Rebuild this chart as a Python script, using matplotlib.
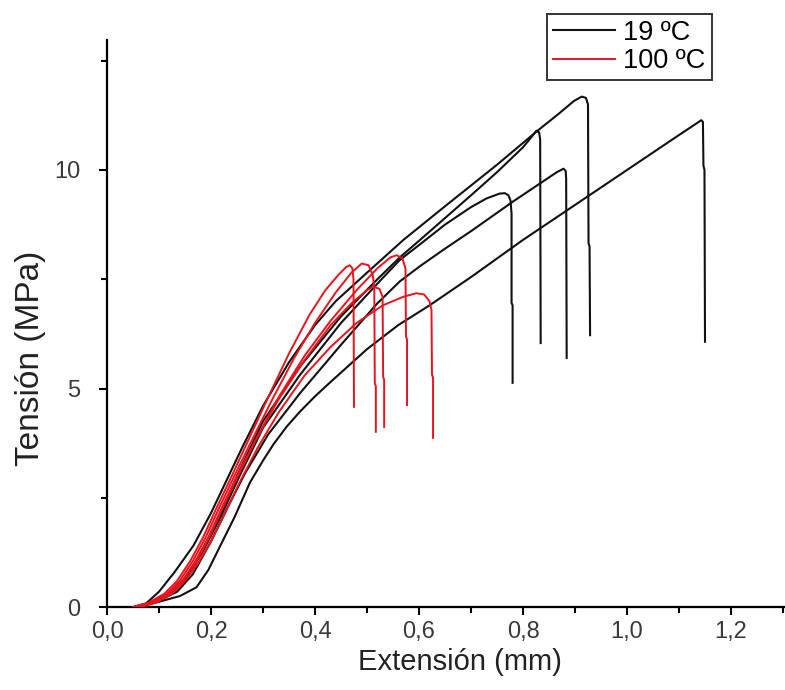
import matplotlib
matplotlib.use('Agg')
import matplotlib.pyplot as plt
from matplotlib.ticker import MultipleLocator, FuncFormatter

plt.rcParams['font.family'] = ['Liberation Sans', 'DejaVu Sans']

# 19 ºC specimens (extension mm, stress MPa)
a_x = [0.05, 0.075, 0.10, 0.13, 0.166, 0.20, 0.23, 0.26, 0.30, 0.35, 0.40, 0.44, 0.50, 0.57,
       0.65, 0.75, 0.826, 0.87, 0.898, 0.913, 0.921, 0.925, 0.926, 0.928, 0.929]
a_y = [0.0, 0.08, 0.35, 0.8, 1.4, 2.15, 2.9, 3.65, 4.6, 5.6, 6.45, 7.0, 7.65, 8.4,
       9.17, 10.12, 10.88, 11.3, 11.58, 11.68, 11.65, 11.5, 8.33, 8.25, 6.22]

b_x = [0.055, 0.09, 0.12, 0.15, 0.18, 0.21, 0.25, 0.30, 0.371, 0.45, 0.52, 0.563, 0.602,
       0.65, 0.70, 0.75, 0.80, 0.818, 0.826, 0.831, 0.833, 0.834]
b_y = [0.0, 0.12, 0.3, 0.65, 1.2, 1.9, 3.0, 4.25, 5.5, 6.65, 7.5, 8.0, 8.4,
       8.9, 9.42, 9.95, 10.52, 10.78, 10.9, 10.86, 10.7, 6.04]

c_x = [0.06, 0.10, 0.135, 0.165, 0.20, 0.235, 0.265, 0.31, 0.371, 0.45, 0.52, 0.563, 0.602,
       0.65, 0.70, 0.781, 0.84, 0.865, 0.878, 0.882, 0.883, 0.884]
c_y = [0.0, 0.15, 0.35, 0.75, 1.5, 2.35, 3.05, 3.95, 4.89, 6.0, 6.95, 7.45, 7.8,
       8.2, 8.6, 9.28, 9.75, 9.95, 10.03, 9.98, 9.8, 5.70]

d_x = [0.055, 0.09, 0.125, 0.155, 0.19, 0.22, 0.255, 0.30, 0.371, 0.45, 0.52, 0.563, 0.602,
       0.65, 0.70, 0.73, 0.755, 0.765, 0.772, 0.776, 0.778, 0.778, 0.780, 0.780]
d_y = [0.0, 0.1, 0.3, 0.7, 1.4, 2.1, 3.0, 4.1, 5.31, 6.5, 7.4, 7.94, 8.3,
       8.75, 9.15, 9.35, 9.46, 9.47, 9.42, 9.3, 9.0, 6.96, 6.9, 5.13]

e_x = [0.06, 0.10, 0.14, 0.172, 0.195, 0.217, 0.245, 0.275, 0.30, 0.32, 0.345, 0.371, 0.40,
       0.43, 0.50, 0.56, 0.62, 0.70, 0.80, 0.90, 1.00, 1.10, 1.143, 1.146, 1.147, 1.149, 1.15]
e_y = [0.0, 0.12, 0.25, 0.45, 0.85, 1.38, 2.05, 2.85, 3.35, 3.72, 4.12, 4.47, 4.82,
       5.15, 5.9, 6.45, 6.9, 7.55, 8.4, 9.2, 10.0, 10.8, 11.14, 11.1, 10.1, 10.0, 6.07]

# 100 ºC specimens
r1_x = [0.05, 0.08, 0.11, 0.135, 0.16, 0.185, 0.21, 0.24, 0.275, 0.31, 0.35, 0.39, 0.42,
        0.445, 0.46, 0.467, 0.472, 0.474, 0.475]
r1_y = [0.0, 0.1, 0.3, 0.6, 1.05, 1.6, 2.25, 3.0, 3.9, 4.8, 5.8, 6.7, 7.25,
        7.6, 7.78, 7.82, 7.75, 7.5, 4.58]

r2_x = [0.055, 0.085, 0.115, 0.14, 0.165, 0.19, 0.215, 0.245, 0.28, 0.32, 0.36, 0.40, 0.44,
        0.47, 0.49, 0.503, 0.511, 0.514, 0.515, 0.517, 0.517]
r2_y = [0.0, 0.1, 0.3, 0.6, 1.05, 1.6, 2.25, 3.0, 3.85, 4.8, 5.7, 6.5, 7.2,
        7.65, 7.86, 7.82, 7.6, 7.3, 5.12, 5.05, 4.01]

r3_x = [0.06, 0.09, 0.12, 0.145, 0.17, 0.195, 0.22, 0.25, 0.285, 0.33, 0.38, 0.43, 0.47,
        0.50, 0.512, 0.524, 0.53, 0.531, 0.533, 0.533]
r3_y = [0.0, 0.1, 0.3, 0.6, 1.05, 1.6, 2.25, 3.0, 3.8, 4.75, 5.65, 6.45, 6.95,
        7.25, 7.33, 7.28, 7.1, 5.27, 5.2, 4.12]

r4_x = [0.06, 0.09, 0.12, 0.145, 0.17, 0.195, 0.22, 0.25, 0.285, 0.33, 0.38, 0.43, 0.48,
        0.52, 0.545, 0.557, 0.568, 0.574, 0.575, 0.577, 0.577]
r4_y = [0.0, 0.1, 0.3, 0.6, 1.0, 1.55, 2.2, 2.95, 3.8, 4.8, 5.75, 6.55, 7.25,
        7.75, 8.0, 8.05, 7.98, 7.75, 6.19, 6.12, 4.62]

r5_x = [0.065, 0.095, 0.125, 0.15, 0.175, 0.20, 0.225, 0.255, 0.29, 0.33, 0.38, 0.43, 0.48,
        0.53, 0.57, 0.595, 0.61, 0.62, 0.624, 0.625, 0.627, 0.627]
r5_y = [0.0, 0.1, 0.3, 0.6, 1.0, 1.5, 2.1, 2.85, 3.65, 4.45, 5.3, 5.95, 6.5,
        6.9, 7.1, 7.18, 7.15, 7.0, 6.8, 5.31, 5.25, 3.87]

black_curves = [(a_x, a_y), (b_x, b_y), (c_x, c_y), (d_x, d_y), (e_x, e_y)]
red_curves = [(r1_x, r1_y), (r2_x, r2_y), (r3_x, r3_y), (r4_x, r4_y), (r5_x, r5_y)]

fig = plt.figure(figsize=(7.85, 6.9), dpi=100)
ax = fig.add_axes([107 / 785, 83 / 690, 678 / 785, 567 / 690])

for i, (x, y) in enumerate(black_curves):
    ax.plot(x, y, color='#111111', lw=1.5, solid_joinstyle='round',
            label='19 ºC' if i == 0 else None, zorder=2)
for i, (x, y) in enumerate(red_curves):
    ax.plot(x, y, color='#e8141c', lw=1.4, solid_joinstyle='round',
            label='100 ºC' if i == 0 else None, zorder=3)

ax.set_xlim(0, 678 / 520)
ax.set_ylim(0, 567 / 43.7)
ax.spines['top'].set_visible(False)
ax.spines['right'].set_visible(False)
ax.spines['left'].set_linewidth(1.6)
ax.spines['bottom'].set_linewidth(1.6)

ax.xaxis.set_major_locator(MultipleLocator(0.2))
ax.xaxis.set_minor_locator(MultipleLocator(0.1))
ax.yaxis.set_major_locator(MultipleLocator(5))
ax.yaxis.set_minor_locator(MultipleLocator(2.5))
ax.xaxis.set_major_formatter(FuncFormatter(lambda v, p: ('%.1f' % v).replace('.', ',')))
ax.tick_params(which='major', direction='out', length=6, width=1.5, labelsize=17,
               labelcolor='#3a3a3a', pad=4)
ax.tick_params(axis='y', which='major', pad=13)
ax.tick_params(which='minor', direction='out', length=4, width=1.5)

ax.set_xlabel('Extensión (mm)', fontsize=21, color='#222222')
ax.set_ylabel('Tensión (MPa)', fontsize=24, color='#222222')
ax.xaxis.set_label_coords(0.521, -0.097)
ax.yaxis.set_label_coords(-0.113, 0.439)
ax.xaxis.label.set_va('center')
ax.yaxis.label.set_va('center')

leg = ax.legend(loc='upper left', bbox_to_anchor=(547 / 785, 1 - 14 / 690),
                bbox_transform=fig.transFigure, fancybox=False, framealpha=1,
                edgecolor='#333333', fontsize=19.5, handlelength=2.3, handletextpad=0.3,
                borderpad=0.22, labelspacing=0.08, borderaxespad=0)
leg.get_frame().set_linewidth(1.4)

fig.savefig('out.png', dpi=100)
